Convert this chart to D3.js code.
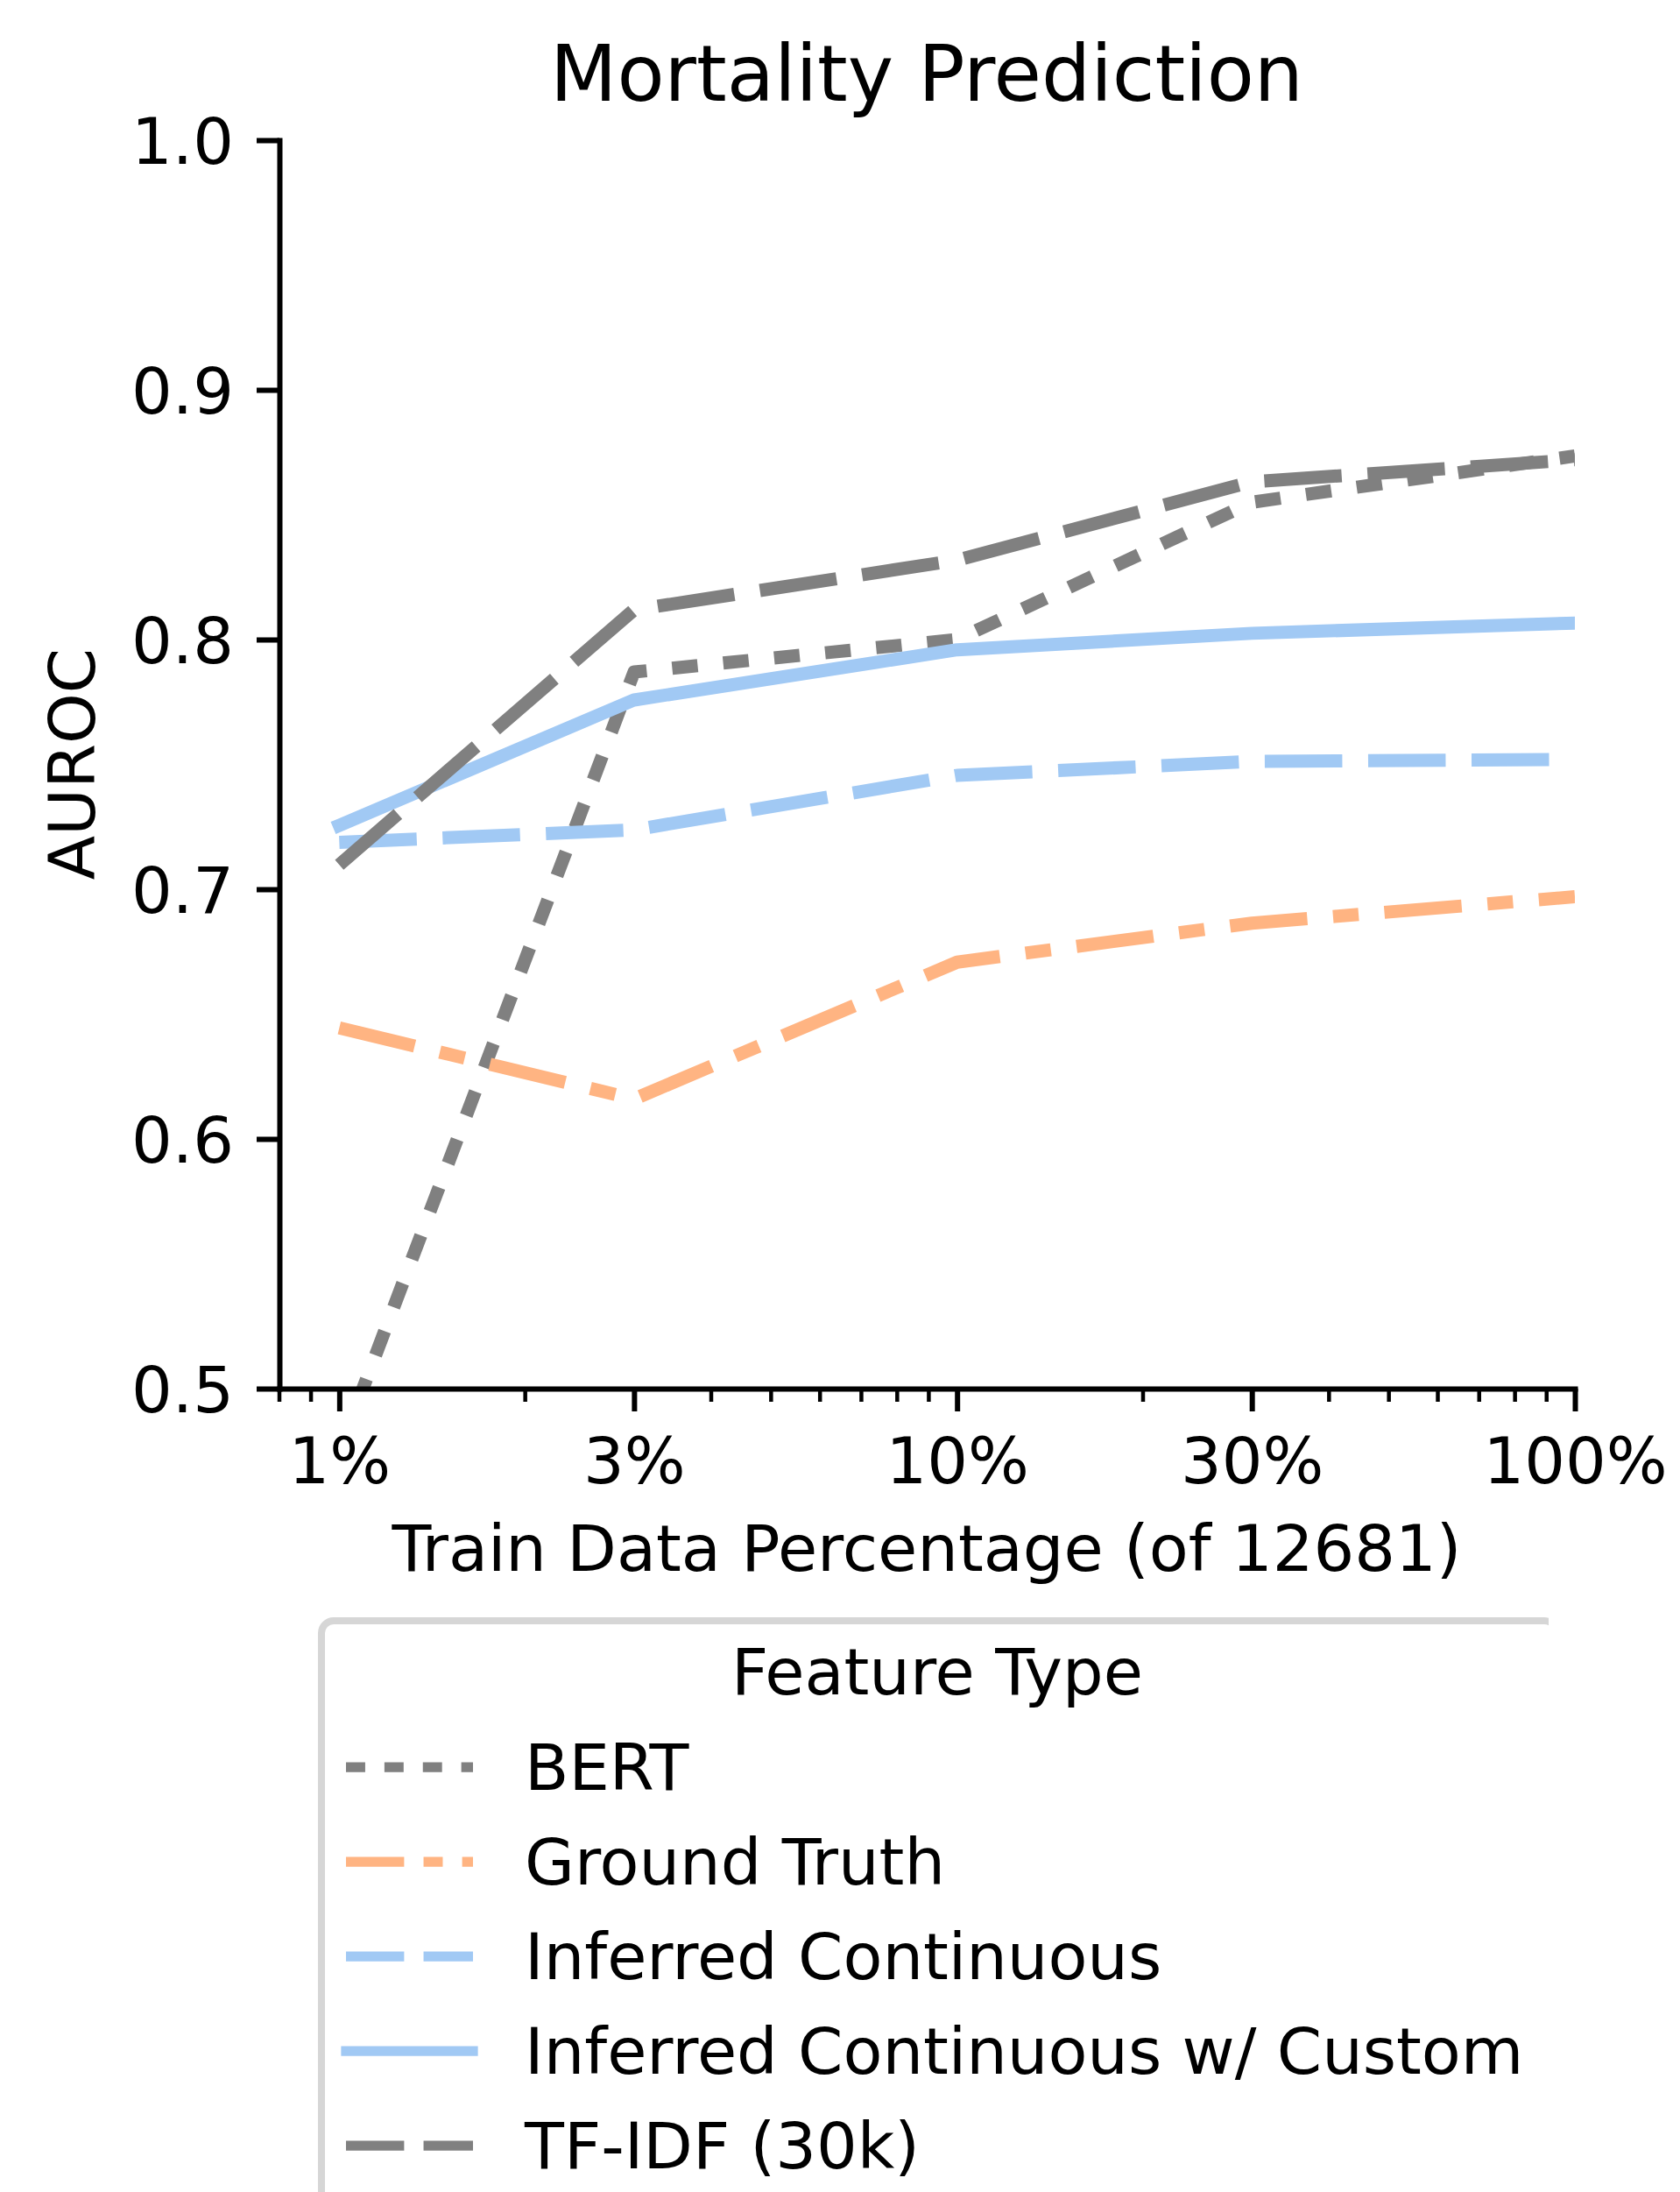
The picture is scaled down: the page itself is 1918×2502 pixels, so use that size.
<!DOCTYPE html>
<html>
<head>
<meta charset="utf-8">
<script src="https://cdn.jsdelivr.net/npm/d3@7"></script>
<style>
body { margin: 0; background: #fff; }
svg { display: block; font-family: "DejaVu Sans", sans-serif; }
</style>
</head>
<body>
<svg id="chart" width="1918" height="2502"></svg>
<script>
// train data percentages
const trainPct = [1, 3, 10, 30, 100];
const pctLabels = ["1%", "3%", "10%", "30%", "100%"];
const yTicks = [0.5, 0.6, 0.7, 0.8, 0.9, 1.0];

const featureTypes = ["BERT", "Ground Truth", "Inferred Continuous", "Inferred Continuous w/ Custom", "TF-IDF (30k)"];

const bert = [0.475, 0.787, 0.800, 0.855, 0.8735];
const groundTruth = [0.6445, 0.616, 0.6708, 0.6864, 0.697];
const inferredCont = [0.7188, 0.7238, 0.7456, 0.7512, 0.752];
const inferredCustom = [0.7256, 0.7758, 0.7959, 0.8025, 0.8066];
const tfidf = [0.7098, 0.8119, 0.8318, 0.8632, 0.872];

const allValues = [bert, groundTruth, inferredCont, inferredCustom, tfidf];

// colours + dash patterns (in units of line width)
const colors = ["#808080", "#ffb482", "#a1c9f4", "#a1c9f4", "#808080"];
const dashUnits = [[1.95, 1.95], [5.9, 1.97, 1.95, 1.97], [5.9, 1.97], null, [5.9, 1.97]];

const svg = d3.select("#chart");
const lw = 15;
const legendLw = 11.25;
const fs = 73.5;

const x = d3.scaleLog().domain([0.8, 100]).range([319, 1798]);
const y = d3.scaleLinear().domain([0.5, 1.0]).range([1585, 160]);

svg.append("defs").append("clipPath")
	.attr("id", "plotclip")
	.append("rect")
	.attr("x", 319).attr("y", 160)
	.attr("width", 1798 - 319).attr("height", 1585 - 160);

// lines
const line = d3.line()
	.x((d, i) => x(trainPct[i]))
	.y(d => y(d));

svg.append("g")
	.attr("clip-path", "url(#plotclip)")
	.selectAll("path")
	.data(allValues)
	.join("path")
	.attr("d", d => line(d))
	.attr("fill", "none")
	.attr("stroke", (d, i) => colors[i])
	.attr("stroke-width", lw)
	.attr("stroke-linejoin", "round")
	.attr("stroke-linecap", (d, i) => dashUnits[i] ? "butt" : "square")
	.attr("stroke-dasharray", (d, i) => dashUnits[i] ? dashUnits[i].map(u => u * lw).join(",") : null);

// x axis
const xAxis = svg.append("g")
	.attr("transform", "translate(0,1585)")
	.call(d3.axisBottom(x)
		.tickValues(trainPct)
		.tickFormat((d, i) => pctLabels[i])
		.tickSize(26)
		.tickPadding(22)
		.tickSizeOuter(0));

const minorTicks = x.ticks().filter(t => !trainPct.includes(+t.toPrecision(6)));
svg.append("g")
	.selectAll("line")
	.data(minorTicks)
	.join("line")
	.attr("x1", d => x(d)).attr("x2", d => x(d))
	.attr("y1", 1585).attr("y2", 1600)
	.attr("stroke", "#000")
	.attr("stroke-width", 4.5);

// y axis
const yAxis = svg.append("g")
	.attr("transform", "translate(319,0)")
	.call(d3.axisLeft(y)
		.tickValues(yTicks)
		.tickFormat(d3.format(".1f"))
		.tickSize(26)
		.tickPadding(26)
		.tickSizeOuter(0));

[xAxis, yAxis].forEach(a => {
	a.select(".domain").attr("stroke-width", 6).attr("stroke-linecap", "square");
	a.selectAll(".tick line").attr("stroke-width", 6);
	a.selectAll(".tick text")
		.attr("font-size", fs)
		.attr("fill", "#000")
		.attr("font-family", "DejaVu Sans");
});
xAxis.selectAll(".tick text").attr("dy", null).attr("y", 108);
yAxis.selectAll(".tick text").attr("dy", "0.36em");

// titles
svg.append("text")
	.attr("x", 1058).attr("y", 115)
	.attr("text-anchor", "middle")
	.attr("font-size", 88.5)
	.text("Mortality Prediction");

svg.append("text")
	.attr("x", 1058).attr("y", 1793)
	.attr("text-anchor", "middle")
	.attr("font-size", fs)
	.text("Train Data Percentage (of 12681)");

svg.append("text")
	.attr("transform", "translate(108,872) rotate(-90)")
	.attr("text-anchor", "middle")
	.attr("font-size", fs)
	.text("AUROC");

// legend
svg.select("defs").append("clipPath")
	.attr("id", "legclip")
	.append("rect")
	.attr("x", 0).attr("y", 0)
	.attr("width", 1768).attr("height", 2502);

const legend = svg.append("g");

legend.append("rect")
	.attr("clip-path", "url(#legclip)")
	.attr("x", 367).attr("y", 1850)
	.attr("width", 1410).attr("height", 800)
	.attr("rx", 14)
	.attr("fill", "#fff")
	.attr("stroke", "#d6d6d6")
	.attr("stroke-width", 8);

legend.append("text")
	.attr("x", 1070).attr("y", 1934)
	.attr("text-anchor", "middle")
	.attr("font-size", fs)
	.text("Feature Type");

const entry = legend.selectAll(".entry")
	.data(featureTypes)
	.join("g")
	.attr("class", "entry")
	.attr("transform", (d, i) => `translate(0,${2017 + i * 108})`);

entry.append("line")
	.attr("x1", 395).attr("x2", 540)
	.attr("stroke", (d, i) => colors[i])
	.attr("stroke-width", legendLw)
	.attr("stroke-linecap", (d, i) => dashUnits[i] ? "butt" : "square")
	.attr("stroke-dasharray", (d, i) => dashUnits[i] ? dashUnits[i].map(u => u * legendLw).join(",") : null);

entry.append("text")
	.attr("x", 599).attr("y", 26)
	.attr("font-size", fs)
	.text(d => d);
</script>
</body>
</html>
